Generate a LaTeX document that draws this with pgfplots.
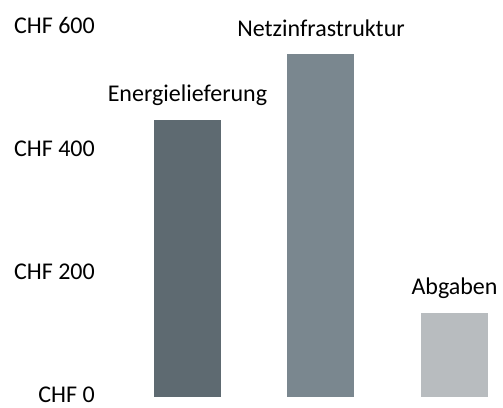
\documentclass[border=0pt]{standalone}
\usepackage{pgfplots}
\pgfplotsset{compat=1.18}
\usepackage{fontspec}
\setmainfont{Carlito}
\definecolor{barA}{HTML}{5E6A71}
\definecolor{barB}{HTML}{7A878F}
\definecolor{barC}{HTML}{B8BCBF}
\begin{document}
\begin{tikzpicture}
\fontsize{24bp}{28bp}\selectfont
\begin{axis}[
  scale only axis,
  width=403bp, height=397bp,
  xmin=-0.655, xmax=2.363,
  ymin=0, ymax=644,
  axis line style={draw=none},
  tick style={draw=none},
  xtick=\empty,
  ytick={0,200,400,600},
  yticklabels={CHF 0,CHF 200,CHF 400,CHF 600},
  yticklabel style={anchor=east, inner sep=0pt, xshift=-5bp, yshift=2bp, font=\fontsize{24bp}{28bp}\selectfont},
  ybar, bar width=67bp, bar shift=0pt,
  clip=false,
  nodes near coords style={anchor=base, inner sep=0pt, yshift=18bp, font=\fontsize{24bp}{28bp}\selectfont, text=black},
]
\addplot[fill=barA, draw=none, nodes near coords={Energielieferung}] coordinates {(0,450)};
\addplot[fill=barB, draw=none, nodes near coords={Netzinfrastruktur}] coordinates {(1,556)};
\addplot[fill=barC, draw=none, nodes near coords={Abgaben}] coordinates {(2,137)};
\end{axis}
\path ([xshift=-100bp,yshift=-11bp]current axis.south west) rectangle (current axis.north east);
\end{tikzpicture}
\end{document}
